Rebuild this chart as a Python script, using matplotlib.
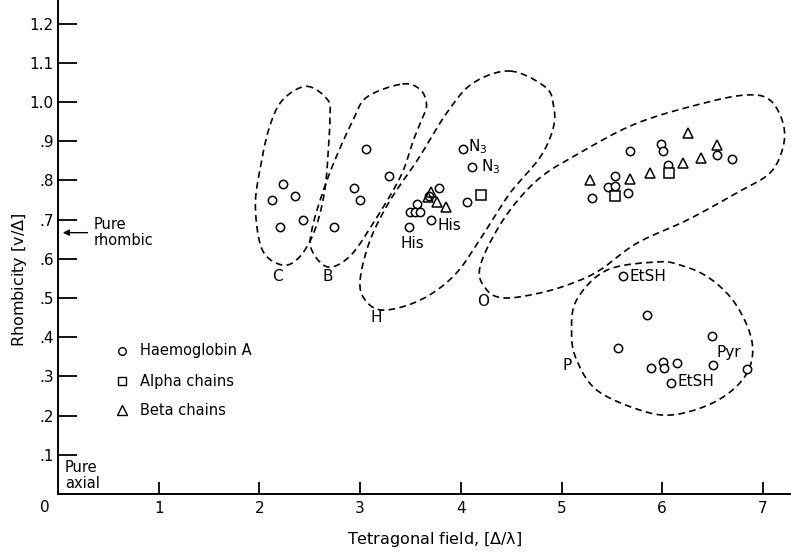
import numpy as np
import matplotlib
matplotlib.use('Agg')
import matplotlib.pyplot as plt

plt.rcParams['font.family'] = ['DejaVu Sans']
plt.rcParams['mathtext.default'] = 'regular'

# Haemoglobin A (circles)
hb_x = [2.23, 2.13, 2.35, 2.20, 2.43,
        2.74, 2.94, 3.00, 3.06, 3.29,
        3.78, 3.57, 3.50, 3.55, 3.59, 3.49, 3.70, 4.02, 4.11, 4.06, 3.68,
        5.68, 5.99, 6.01, 6.54, 6.69, 6.06, 5.53, 5.46, 5.53, 5.66, 5.30,
        5.61, 5.85, 5.56, 5.89, 6.01, 6.02, 6.15, 6.09, 6.49, 6.50, 6.84]
hb_y = [0.79, 0.75, 0.76, 0.68, 0.70,
        0.68, 0.78, 0.75, 0.88, 0.81,
        0.78, 0.74, 0.72, 0.72, 0.72, 0.68, 0.70, 0.88, 0.835, 0.745, 0.76,
        0.875, 0.893, 0.875, 0.865, 0.855, 0.84, 0.81, 0.784, 0.786, 0.768, 0.756,
        0.556, 0.457, 0.372, 0.321, 0.337, 0.321, 0.334, 0.283, 0.403, 0.329, 0.318]

# Alpha chains (squares)
alpha_x = [4.20, 6.07, 5.53]
alpha_y = [0.762, 0.818, 0.760]

# Beta chains (triangles)
beta_x = [3.70, 3.76, 3.85, 3.67, 6.26, 6.54, 6.39, 6.21, 5.88, 5.68, 5.28]
beta_y = [0.77, 0.745, 0.733, 0.757, 0.92, 0.89, 0.857, 0.845, 0.818, 0.803, 0.80]

# outlines of the dashed regions (data coords)
loop_C = [(2.47, 1.04), (2.68, 1.005), (2.70, 0.962), (2.69, 0.903), (2.65, 0.776),
          (2.55, 0.673), (2.40, 0.605), (2.23, 0.584), (2.03, 0.622), (1.96, 0.732),
          (2.01, 0.834), (2.10, 0.936), (2.23, 1.005)]
loop_B = [(3.42, 1.046), (3.60, 1.031), (3.66, 0.992), (3.61, 0.954), (3.53, 0.903),
          (3.40, 0.809), (3.13, 0.691), (2.90, 0.607), (2.68, 0.579), (2.52, 0.622),
          (2.52, 0.673), (2.62, 0.763), (2.75, 0.852), (2.93, 0.954), (3.07, 1.013)]
loop_H = [(4.49, 1.079), (4.84, 1.038), (4.92, 0.992), (4.92, 0.936), (4.79, 0.860),
          (4.49, 0.768), (4.22, 0.661), (3.94, 0.559), (3.60, 0.495), (3.23, 0.469),
          (3.05, 0.495), (3.00, 0.546), (3.10, 0.648), (3.30, 0.750), (3.57, 0.852),
          (3.86, 0.972), (4.12, 1.048)]
loop_O = [(4.19, 0.579), (4.26, 0.520), (4.44, 0.500), (4.79, 0.513), (5.11, 0.538),
          (5.38, 0.571), (5.75, 0.640), (6.25, 0.699), (6.74, 0.768), (7.07, 0.819),
          (7.20, 0.885), (7.20, 0.946), (7.07, 1.005), (6.84, 1.018), (6.41, 0.997),
          (5.75, 0.946), (5.18, 0.870), (4.76, 0.801), (4.42, 0.699)]
loop_P = [(5.95, 0.592), (6.18, 0.584), (6.45, 0.554), (6.70, 0.495), (6.87, 0.411),
          (6.89, 0.342), (6.77, 0.283), (6.50, 0.232), (6.11, 0.202), (5.78, 0.214),
          (5.35, 0.265), (5.15, 0.342), (5.10, 0.411), (5.15, 0.495), (5.45, 0.571)]

xticks = [1, 2, 3, 4, 5, 6, 7]
yticks = [0.1, 0.2, 0.3, 0.4, 0.5, 0.6, 0.7, 0.8, 0.9, 1.0, 1.1, 1.2]
ylabels = ['.1', '.2', '.3', '.4', '.5', '.6', '.7', '.8', '.9', '1.0', '1.1', '1.2']


def closed_spline(pts, n=20):
    # closed Catmull-Rom curve through the outline points
    p = np.array(pts)
    k = len(p)
    out = []
    for i in range(k):
        p0, p1, p2, p3 = p[i - 1], p[i], p[(i + 1) % k], p[(i + 2) % k]
        for t in np.linspace(0, 1, n, endpoint=False):
            t2, t3 = t * t, t * t * t
            out.append(0.5 * (2 * p1 + (-p0 + p2) * t
                              + (2 * p0 - 5 * p1 + 4 * p2 - p3) * t2
                              + (-p0 + 3 * p1 - 3 * p2 + p3) * t3))
    out.append(out[0])
    return np.array(out)


fig = plt.figure(figsize=(7.91, 5.53), dpi=100)
ax = fig.add_axes([58 / 791, 59 / 553, 732 / 791, 494 / 553])
ax.set_xlim(0, 732 / 100.7)
ax.set_ylim(0, 494 / 392)

for sp in ['top', 'right']:
    ax.spines[sp].set_visible(False)
for sp in ['left', 'bottom']:
    ax.spines[sp].set_linewidth(1.4)

ax.set_xticks(xticks)
ax.set_xticklabels([str(t) for t in xticks])
ax.set_yticks(yticks)
ax.set_yticklabels(ylabels)
ax.tick_params(axis='x', direction='in', length=9, width=1.3, labelsize=11, pad=5)
ax.tick_params(axis='y', direction='in', length=14, width=1.3, labelsize=11, pad=3)
ax.text(-0.08, -0.015, '0', ha='right', va='top', fontsize=11)

ax.set_xlabel('Tetragonal field, [$\\Delta/\\lambda$]', fontsize=11.5)
ax.set_ylabel('Rhombicity [v/$\\Delta$]', fontsize=11.5)
ax.xaxis.set_label_coords(0.514, -0.073)
ax.yaxis.set_label_coords(-0.040, 0.433)

# dashed region outlines
for loop in [loop_C, loop_B, loop_H, loop_O, loop_P]:
    c = closed_spline(loop)
    ax.plot(c[:, 0], c[:, 1], color='black', lw=1.2, linestyle=(0, (4, 2.6)))

ax.plot(hb_x, hb_y, 'o', ms=6, mfc='white', mec='black', mew=1.1, linestyle='none')
ax.plot(alpha_x, alpha_y, 's', ms=6.5, mfc='white', mec='black', mew=1.1, linestyle='none')
ax.plot(beta_x, beta_y, '^', ms=7.5, mfc='none', mec='black', mew=1.1, linestyle='none')

# point labels
lab = dict(fontsize=11, va='center', ha='left')
ax.text(3.77, 0.686, 'His', **lab)
ax.text(3.40, 0.640, 'His', **lab)
ax.text(4.07, 0.885, 'N$_3$', **lab)
ax.text(4.20, 0.834, 'N$_3$', **lab)
ax.text(5.68, 0.556, 'EtSH', **lab)
ax.text(6.15, 0.287, 'EtSH', **lab)
ax.text(6.54, 0.360, 'Pyr', **lab)

# region letters
reg = dict(fontsize=11, ha='center', va='center')
ax.text(2.18, 0.554, 'C', **reg)
ax.text(2.68, 0.554, 'B', **reg)
ax.text(3.16, 0.449, 'H', **reg)
ax.text(4.22, 0.490, 'O', **reg)
ax.text(5.06, 0.329, 'P', **reg)

# pure rhombic / pure axial
ax.annotate('', xy=(0.02, 2 / 3), xytext=(0.32, 2 / 3),
            arrowprops=dict(arrowstyle='-|>', color='black', lw=1.0,
                            mutation_scale=9))
ax.text(0.35, 2 / 3, 'Pure\nrhombic', fontsize=10.5, ha='left', va='center',
        linespacing=1.05)
ax.text(0.07, 0.047, 'Pure\naxial', fontsize=10.5, ha='left', va='center',
        linespacing=1.05)

# legend drawn by hand
leg_y = [0.365, 0.288, 0.214]
ax.plot(0.64, leg_y[0], 'o', ms=5.5, mfc='white', mec='black', mew=1.0)
ax.plot(0.64, leg_y[1], 's', ms=6, mfc='white', mec='black', mew=1.0)
ax.plot(0.64, leg_y[2], '^', ms=6.5, mfc='none', mec='black', mew=1.0)
for yy, t in zip(leg_y, ['Haemoglobin A', 'Alpha chains', 'Beta chains']):
    ax.text(0.81, yy, t, fontsize=10.5, ha='left', va='center')

fig.savefig('out.png', dpi=100)
